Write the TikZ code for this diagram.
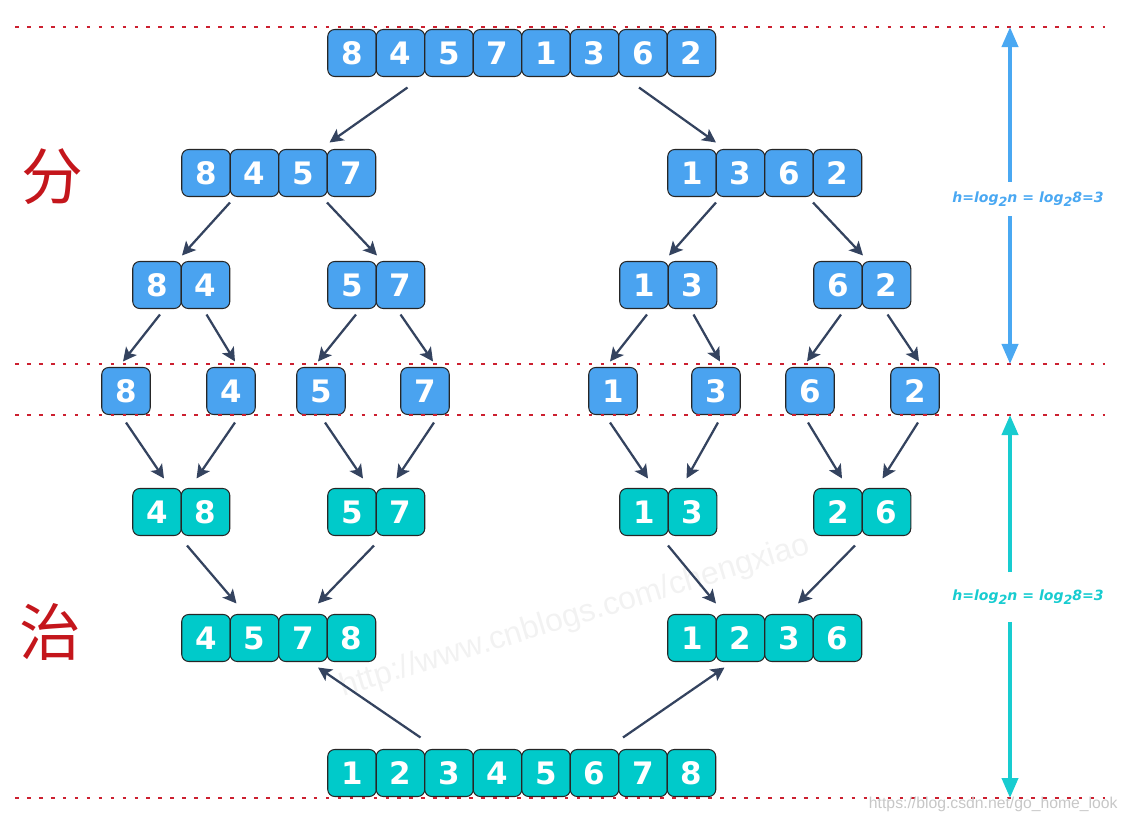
\documentclass[tikz,border=0pt]{standalone}
\usepackage{fontspec}
\setmainfont{Liberation Sans}
\newfontfamily\digitfont{DejaVu Sans}
\newfontfamily\cjkfont{Noto Sans CJK SC}
\newfontfamily\labelfont{DejaVu Sans}
\usetikzlibrary{arrows.meta, calc, positioning}
\definecolor{splitblue}{HTML}{4AA3F0}
\definecolor{mergeteal}{HTML}{00CACA}
\definecolor{arrowdark}{HTML}{34435F}
\definecolor{guidered}{HTML}{CC2030}
\definecolor{cnred}{HTML}{C4161C}
\definecolor{splitlabel}{HTML}{4AA8F2}
\definecolor{mergelabel}{HTML}{18CCD0}

\begin{document}
\begin{tikzpicture}[
    x=0.025cm, y=-0.025cm,
    cell/.style={draw=black!85, line width=0.75pt, rounded corners=5pt, minimum width=1.2125cm, minimum height=1.175cm, inner sep=0pt, outer sep=0pt, text=white, font=\digitfont\bfseries\fontsize{22}{22}\selectfont},
    split/.style={cell, fill=splitblue},
    merge/.style={cell, fill=mergeteal},
    arr/.style={-{Stealth[length=3.4mm, width=3.4mm, inset=0.8mm]}, line width=1.6pt, arrowdark},
    guide/.style={guidered, line width=2pt, dash pattern=on 2.6pt off 5.9pt},
    hbar/.style={line width=2.8pt, -{Triangle[length=5mm, width=4mm]}},
    hlabel/.style={font=\labelfont\fontsize{10}{12}\selectfont\bfseries\itshape, inner xsep=0pt, inner ysep=7pt},
    cnchar/.style={font=\cjkfont\fontsize{44}{44}\selectfont, text=cnred},
  ]
  \useasboundingbox (0,0) rectangle (1124,822);
  % --- watermark
  \node[rotate=17, font=\fontsize{22.7}{22.7}\selectfont, text=black!5] (wm) at (575,617) {http://www.cnblogs.com/chengxiao};
  % --- divide
  \foreach \v [count=\i] in {8,4,5,7,1,3,6,2}
    \node[split] (t\i) at ({352+48.5*(\i-1)},53) {\v};
  \foreach \v [count=\i] in {8,4,5,7}
    \node[split] (dl\i) at ({206+48.5*(\i-1)},173) {\v};
  \foreach \v [count=\i] in {1,3,6,2}
    \node[split] (dr\i) at ({692+48.5*(\i-1)},173) {\v};
  \foreach \g/\x/\a/\b in {sa/157/8/4, sb/352/5/7, sc/644/1/3, sd/838/6/2} {
    \node[split] (\g1) at (\x,285) {\a};
    \node[split, right=0pt of \g1] (\g2) {\b};
  }
  \foreach \v/\x [count=\i] in {8/126, 4/231, 5/321, 7/425, 1/613, 3/716, 6/810, 2/915}
    \node[split] (l\i) at (\x,391) {\v};
  % --- conquer
  \foreach \g/\x/\a/\b in {ma/157/4/8, mb/352/5/7, mc/644/1/3, md/838/2/6} {
    \node[merge] (\g1) at (\x,512) {\a};
    \node[merge, right=0pt of \g1] (\g2) {\b};
  }
  \foreach \v [count=\i] in {4,5,7,8}
    \node[merge] (ml\i) at ({206+48.5*(\i-1)},638) {\v};
  \foreach \v [count=\i] in {1,2,3,6}
    \node[merge] (mr\i) at ({692+48.5*(\i-1)},638) {\v};
  \foreach \v [count=\i] in {1,2,3,4,5,6,7,8}
    \node[merge] (f\i) at ({352+48.5*(\i-1)},773) {\v};
  % --- edges
  \draw[arr] ($(t2.south)+(7,11)$) -- ($(dl4.north)+(-22,-7)$);
  \draw[arr] ($(t7.south)+(-4,11)$) -- ($(dr1.north)+(24,-7)$);
  \foreach \a/\b in {dl1/sa1, dl3/sb1, dr1/sc1, dr3/sd1}
    \draw[arr] ($(\a.south)+(24,6)$) -- ($(\b.north)+(25,-6)$);
  \foreach \a/\b/\da/\db in {sa1/l1/3/-3, sa2/l2/1/4, sb1/l3/4/-3, sb2/l4/0/8, sc1/l5/3/-3, sc2/l6/1/4, sd1/l7/3/-3, sd2/l8/1/4}
    \draw[arr] ($(\a.south)+(\da,6)$) -- ($(\b.north)+(\db,-6)$);
  \foreach \a/\b/\da/\db in {l1/ma1/0/7, l2/ma2/4/-9, l3/mb1/4/11, l4/mb2/9/-4, l5/mc1/-3/4, l6/mc2/2/-6, l7/md1/-2/4, l8/md2/3/-4}
    \draw[arr] ($(\a.south)+(\da,8)$) -- ($(\b.north)+(\db,-10)$);
  \foreach \a/\b/\da/\db in {ma1/ml2/30/-18, mb1/ml3/22/15, mc1/mr1/24/24, md1/mr3/17/9}
    \draw[arr] ($(\a.south)+(\da,10)$) -- ($(\b.north)+(\db,-11)$);
  \draw[arr] ($(f2.north)+(20,-12)$) -- ($(ml3.south)+(15,6)$);
  \draw[arr] ($(f7.north)+(-20,-12)$) -- ($(mr2.south)+(-16,6)$);
  % --- level guides
  \foreach \n/\y in {1/27, 2/364, 3/415, 4/798} {
    \coordinate (g\n w) at (15,\y);
    \coordinate (g\n e) at (1105,\y);
    \draw[guide] (g\n w) -- (g\n e);
  }
  % --- height bars
  \coordinate (hs-top) at (1010,27);
  \coordinate (hs-bot) at (1010,364);
  \coordinate (hm-top) at (1010,415);
  \coordinate (hm-bot) at (1010,798);
  \node[hlabel, text=splitlabel] (hs) at (1028,199) {h=log\raisebox{-0.45ex}{\fontsize{9}{9}\selectfont 2}n = log\raisebox{-0.45ex}{\fontsize{9}{9}\selectfont 2}8=3};
  \node[hlabel, text=mergelabel, inner ysep=12.5pt] (hm) at (1028,597) {h=log\raisebox{-0.45ex}{\fontsize{9}{9}\selectfont 2}n = log\raisebox{-0.45ex}{\fontsize{9}{9}\selectfont 2}8=3};
  \draw[hbar, splitlabel] (hs.north -| hs-top) -- (hs-top);
  \draw[hbar, splitlabel] (hs.south -| hs-bot) -- (hs-bot);
  \draw[hbar, mergelabel] (hm.north -| hm-top) -- (hm-top);
  \draw[hbar, mergelabel] (hm.south -| hm-bot) -- (hm-bot);
  % --- side marks
  \node[cnchar] (fen) at (52,177) {分};
  \node[cnchar] (zhi) at (50,632) {治};
  \node[anchor=west, font=\fontsize{11.2}{11.2}\selectfont, text=black!22] (wm2) at (864,804) {https://blog.csdn.net/go\_home\_look};
\end{tikzpicture}
\end{document}
